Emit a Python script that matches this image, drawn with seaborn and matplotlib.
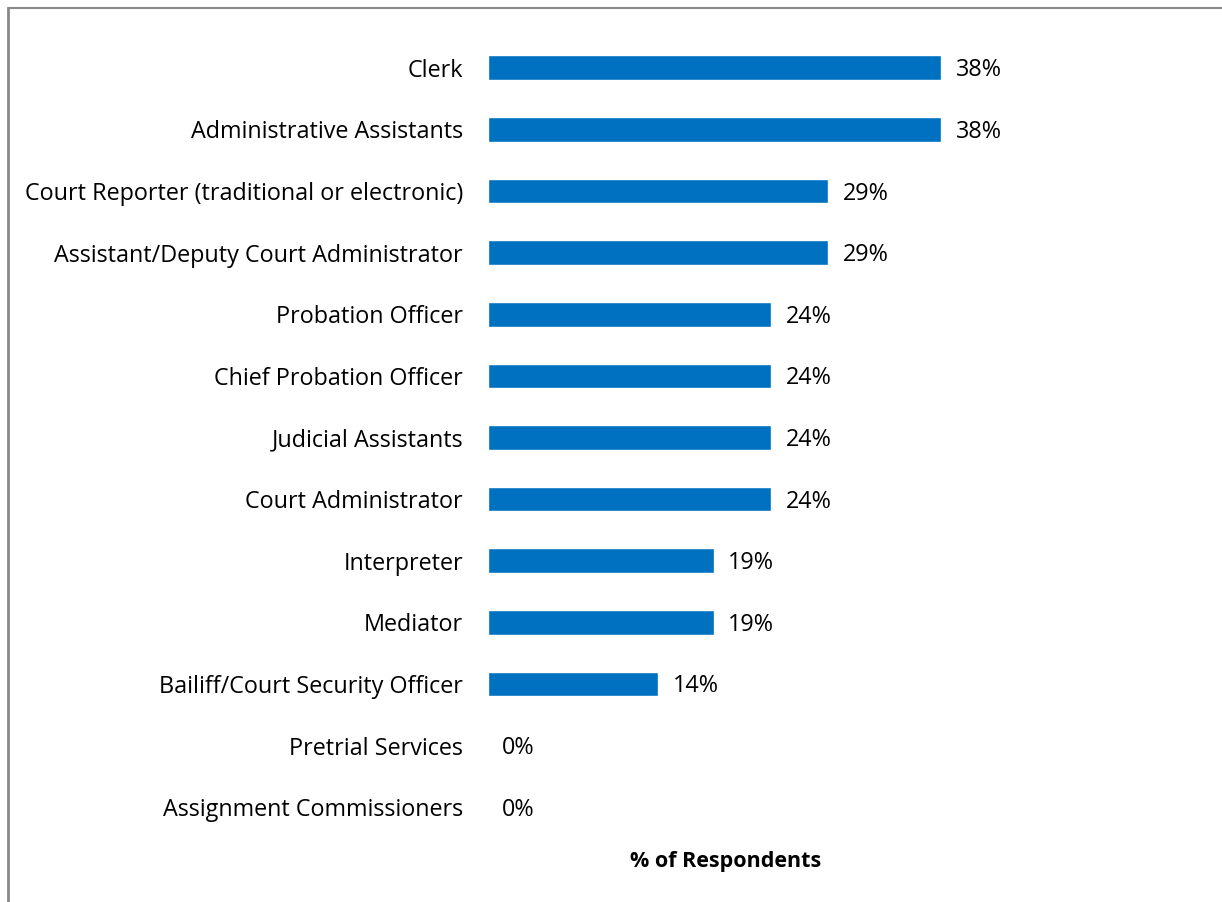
import matplotlib
matplotlib.use("Agg")
import matplotlib.pyplot as plt
import seaborn as sns
import pandas as pd
from matplotlib.lines import Line2D

categories = [
    "Clerk",
    "Administrative Assistants",
    "Court Reporter (traditional or electronic)",
    "Assistant/Deputy Court Administrator",
    "Probation Officer",
    "Chief Probation Officer",
    "Judicial Assistants",
    "Court Administrator",
    "Interpreter",
    "Mediator",
    "Bailiff/Court Security Officer",
    "Pretrial Services",
    "Assignment Commissioners",
]
values = [38.1, 38.1, 28.6, 28.6, 23.8, 23.8, 23.8, 23.8, 19.0, 19.0, 14.3, 0.0, 0.0]
x_label = "% of Respondents"

df = pd.DataFrame({"role": categories, "pct": values})

sns.set_theme(style="white")
plt.rcParams["font.family"] = ["Open Sans", "DejaVu Sans"]

fig = plt.figure(figsize=(12.22, 9.02), dpi=100)
ax = fig.add_axes([488 / 1222, 1 - 838 / 902, (964 - 488) / 1222, (838 - 37) / 902])

sns.barplot(data=df, x="pct", y="role", orient="h", color="#0070C0",
            width=0.40, saturation=1, ax=ax, order=categories)

ax.set_xlim(0, 40)
ax.set_ylim(len(categories) - 0.5, -0.5)
ax.set_xticks([])
ax.set_ylabel("")
ax.set_xlabel(x_label, fontsize=15.5, fontweight="bold", color="black", labelpad=9)
ax.tick_params(axis="y", length=0, pad=18, labelsize=16.8, labelcolor="black")
for s in ax.spines.values():
    s.set_visible(False)

for i, v in enumerate(values):
    ax.text(v + 1.2, i + 0.04, f"{round(v)}%", va="center", ha="left", fontsize=16.8, color="black")

# chart frame (partially visible)
fig.add_artist(Line2D([8 / 1222, 8 / 1222], [0, 1 - 8 / 902], transform=fig.transFigure,
                      color="#888888", linewidth=2))
fig.add_artist(Line2D([8 / 1222, 1], [1 - 8 / 902, 1 - 8 / 902], transform=fig.transFigure,
                      color="#888888", linewidth=1.5))

fig.savefig("out.png", dpi=100, facecolor="white")
